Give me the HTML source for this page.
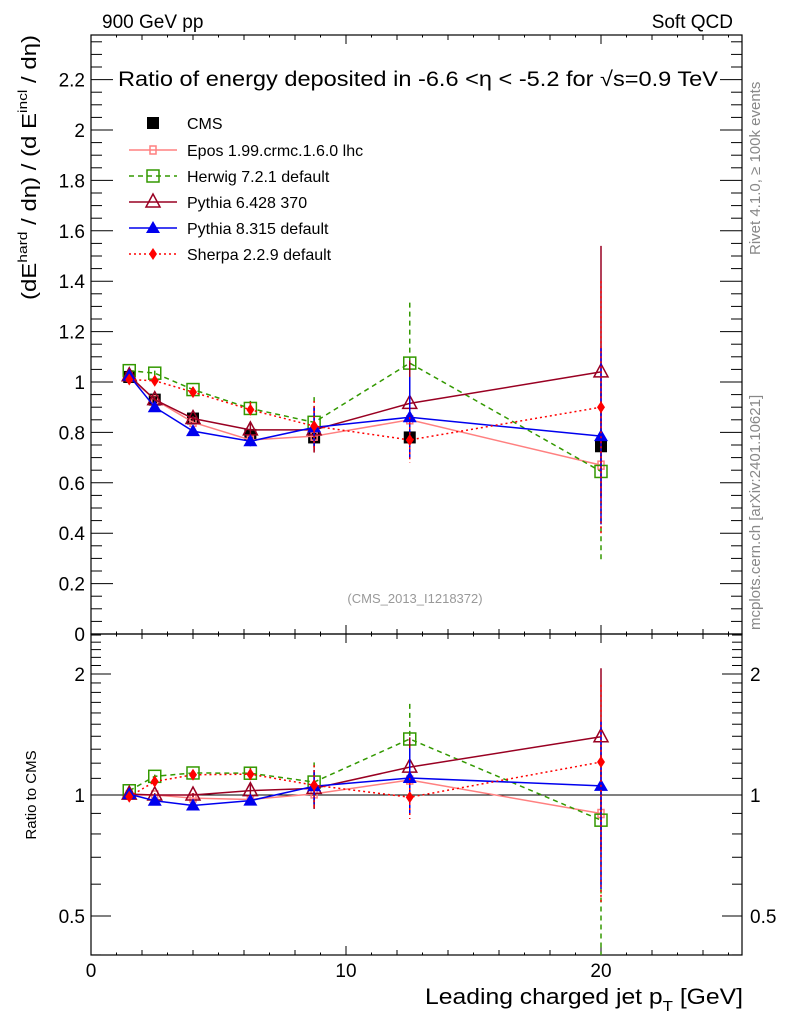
<!DOCTYPE html>
<html><head><meta charset="utf-8"><style>
html,body{margin:0;padding:0;background:#fff}
svg{display:block;font-family:"Liberation Sans",sans-serif}
</style></head><body>
<svg id="c" width="786" height="1024" viewBox="0 0 786 1024" xmlns="http://www.w3.org/2000/svg">
<text x="102" y="28" font-size="19">900 GeV pp</text>
<text x="733" y="28" font-size="19" text-anchor="end">Soft QCD</text>
<text x="118" y="86" font-size="21" textLength="600" lengthAdjust="spacingAndGlyphs">Ratio of energy deposited in -6.6 &lt;η &lt; -5.2 for √s=0.9 TeV</text>
<text x="415" y="603" font-size="13" fill="#999" text-anchor="middle">(CMS_2013_I1218372)</text>
<text transform="translate(760,255) rotate(-90)" font-size="15" fill="#888">Rivet 4.1.0, ≥ 100k events</text>
<text transform="translate(760,630) rotate(-90)" font-size="15" fill="#888">mcplots.cern.ch [arXiv:2401.10621]</text>
<text transform="translate(36,300) rotate(-90)" font-size="20" textLength="265" lengthAdjust="spacingAndGlyphs">(dE<tspan dy="-9" font-size="13">hard</tspan><tspan dy="9"> / dη) / (d E</tspan><tspan dy="-9" font-size="13">incl</tspan><tspan dy="9"> / dη)</tspan></text>
<text transform="translate(36,795) rotate(-90)" font-size="15" text-anchor="middle">Ratio to CMS</text>
<text x="425" y="1004" font-size="22" textLength="318" lengthAdjust="spacingAndGlyphs">Leading charged jet p<tspan dy="7" font-size="15">T</tspan><tspan dy="-7"> [GeV]</tspan></text>
<g id="g"></g>
</svg>
<script>
const xs=[1.5,2.5,4,6.25,8.75,12.5,20];
const cmsV=[1.02,0.93,0.855,0.79,0.78,0.78,0.745];
const cmsE=[0.01,0.01,0.01,0.01,0.01,0.01,0.01];
const eposV=[1.02,0.93,0.84,0.77,0.785,0.85,0.67];
const eposE=[0.01,0.01,0.01,0.02,0.06,0.05,0.05];
const herwigV=[1.045,1.035,0.97,0.895,0.84,1.075,0.645];
const herwigE=[0.01,0.01,0.01,0.03,0.1,0.24,0.35];
const py6V=[1.025,0.93,0.855,0.81,0.81,0.915,1.04];
const py6E=[0.01,0.01,0.01,0.03,0.09,0.17,0.5];
const py8V=[1.025,0.90,0.805,0.765,0.82,0.86,0.785];
const py8E=[0.01,0.01,0.01,0.02,0.08,0.16,0.35];
const sherpaV=[1.01,1.005,0.96,0.89,0.825,0.77,0.90];
const sherpaE=[0.01,0.01,0.01,0.03,0.1,0.09,0.5];
const yTicks=[0,0.2,0.4,0.6,0.8,1,1.2,1.4,1.6,1.8,2,2.2];
const yTickLabels=["0","0.2","0.4","0.6","0.8","1","1.2","1.4","1.6","1.8","2","2.2"];
const rTicks=[0.5,1,2];
const rTickLabels=["0.5","1","2"];
const xTicks=[0,10,20];
const xTickLabels=["0","10","20"];

const L=91,R=742,T=35,M=634,B=955;
const X=v=>L+v*25.5;
const Y=v=>M-v*252;
const RY=v=>795-Math.log2(v)*121;
const NS="http://www.w3.org/2000/svg";
const g=document.getElementById('g');
function el(t,a){const e=document.createElementNS(NS,t);for(const k in a)e.setAttribute(k,a[k]);g.appendChild(e);return e;}

let e;
e=el('rect',{x:L,y:T,width:R-L,height:M-T,fill:'none',stroke:'#000','stroke-width':1.2});


e=el('rect',{x:L,y:M,width:R-L,height:B-M,fill:'none',stroke:'#000','stroke-width':1.2});


e=el('line',{x1:L,x2:R,y1:RY(1),y2:RY(1),stroke:'#000','stroke-width':1});



for(let v=0;v<=2.37;v+=0.05){const y=Y(v);const maj=Math.abs(v*5-Math.round(v*5))<1e-6;
 el('line',{x1:L,x2:L+(maj?22:11),y1:y,y2:y,stroke:'#000'});el('line',{x1:R,x2:R-(maj?22:11),y1:y,y2:y,stroke:'#000'});}
yTicks.forEach((v,i)=>{e=el('text',{x:L-6,y:Y(v)+7,'font-size':19,'text-anchor':'end'});e.textContent=yTickLabels[i];

});
[0.4,0.5,0.6,0.7,0.8,0.9,1,1.1,1.2,1.3,1.4,1.5,1.6,1.7,1.8,1.9,2,2.1,2.2,2.3,2.4,2.5].forEach(v=>{const y=RY(v);if(y<M||y>B)return;const maj=rTicks.includes(v);
 el('line',{x1:L,x2:L+(maj?20:10),y1:y,y2:y,stroke:'#000'});el('line',{x1:R,x2:R-(maj?20:10),y1:y,y2:y,stroke:'#000'});});
rTicks.forEach((v,i)=>{e=el('text',{x:L-6,y:RY(v)+7,'font-size':19,'text-anchor':'end'});e.textContent=rTickLabels[i];


e=el('text',{x:R+8,y:RY(v)+7,'font-size':19});e.textContent=rTickLabels[i];

});
for(let v=0;v<=25;v++){const x=X(v);const len=v%10==0?9:(v%2==0?5:2.5);
 el('line',{x1:x,x2:x,y1:B,y2:B-len,stroke:'#000'});el('line',{x1:x,x2:x,y1:T,y2:T+len,stroke:'#000'});
 el('line',{x1:x,x2:x,y1:M,y2:M-len,stroke:'#000'});el('line',{x1:x,x2:x,y1:M,y2:M+len,stroke:'#000'});}
xTicks.forEach((v,i)=>{e=el('text',{x:X(v),y:B+22,'font-size':19,'text-anchor':'middle'});e.textContent=xTickLabels[i];

});

function marker(kind,col,x,y){
 if(kind=='sq')return el('rect',{x:x-6,y:y-6,width:12,height:12,fill:col});
 if(kind=='osq')return el('rect',{x:x-6,y:y-6,width:12,height:12,fill:'none',stroke:col,'stroke-width':1.5});
 if(kind=='cross')return el('rect',{x:x-3,y:y-4,width:6,height:8,fill:'none',stroke:col,'stroke-width':1.5});
 if(kind=='otri')return el('path',{d:`M${x},${y-8}L${x+7},${y+5}L${x-7},${y+5}Z`,fill:'none',stroke:col,'stroke-width':1.5});
 if(kind=='tri')return el('path',{d:`M${x},${y-7}L${x+7},${y+5}L${x-7},${y+5}Z`,fill:col});
 if(kind=='dia')return el('path',{d:`M${x},${y-6}L${x+4},${y}L${x},${y+6}L${x-4},${y}Z`,fill:col});
}
const series=[
 {n:'epos',v:eposV,e:eposE,c:'#ff8080',m:'cross',d:'',lab:'Epos 1.99.crmc.1.6.0 lhc'},
 {n:'herwig',v:herwigV,e:herwigE,c:'#339900',m:'osq',d:'5,4',lab:'Herwig 7.2.1 default'},
 {n:'pythia6',v:py6V,e:py6E,c:'#990022',m:'otri',d:'',lab:'Pythia 6.428 370'},
 {n:'pythia8',v:py8V,e:py8E,c:'#0000ee',m:'tri',d:'',lab:'Pythia 8.315 default'},
 {n:'sherpa',v:sherpaV,e:sherpaE,c:'#ff0000',m:'dia',d:'2,3',lab:'Sherpa 2.2.9 default'}
];
function drawSeries(s,yf,vals,errs){
 const pts=xs.map((x,i)=>[X(x),yf(vals[i])]);
 e=el('polyline',{points:pts.map(p=>p.join(',')).join(' '),fill:'none',stroke:s.c,'stroke-width':1.5,'stroke-dasharray':s.d});
 
 
 xs.forEach((x,i)=>{const lo=Math.max(vals[i]-errs[i],0.01);
  e=el('line',{x1:X(x),x2:X(x),y1:yf(vals[i]+errs[i]),y2:yf(lo),stroke:s.c,'stroke-width':1.5,'stroke-dasharray':s.d});
  
  
  e=marker(s.m,s.c,X(x),yf(vals[i]));
  
  });
}
xs.forEach((x,i)=>{e=marker('sq','#000',X(x),Y(cmsV[i]));

});
series.forEach(s=>drawSeries(s,Y,s.v,s.e));
const cl=document.createElementNS(NS,'clipPath');cl.setAttribute('id','rc');
const cr=document.createElementNS(NS,'rect');cr.setAttribute('x',L);cr.setAttribute('y',M);cr.setAttribute('width',R-L);cr.setAttribute('height',B-M);cl.appendChild(cr);g.appendChild(cl);
const rg=el('g',{'clip-path':'url(#rc)'});


series.forEach(s=>{
 const rv=s.v.map((v,i)=>v/cmsV[i]);const re=s.e.map((v,i)=>v/cmsV[i]);
 const before=g.childNodes.length;
 drawSeries(s,RY,rv,re);
 Array.from(g.childNodes).slice(before).forEach(n=>rg.appendChild(n));
});
const ly=[123,150,176,202,228,254];
e=el('rect',{x:147,y:ly[0]-6,width:12,height:12,fill:'#000'});


e=el('text',{x:187,y:ly[0]+6,'font-size':16});e.textContent='CMS';


series.forEach((s,i)=>{const y=ly[i+1];
 e=el('line',{x1:129,x2:177,y1:y,y2:y,stroke:s.c,'stroke-width':1.5,'stroke-dasharray':s.d});
 
 
 e=marker(s.m,s.c,153,y);
 
 
 e=el('text',{x:187,y:y+6,'font-size':16});e.textContent=s.lab;
 
 
});
</script>
</body></html>
